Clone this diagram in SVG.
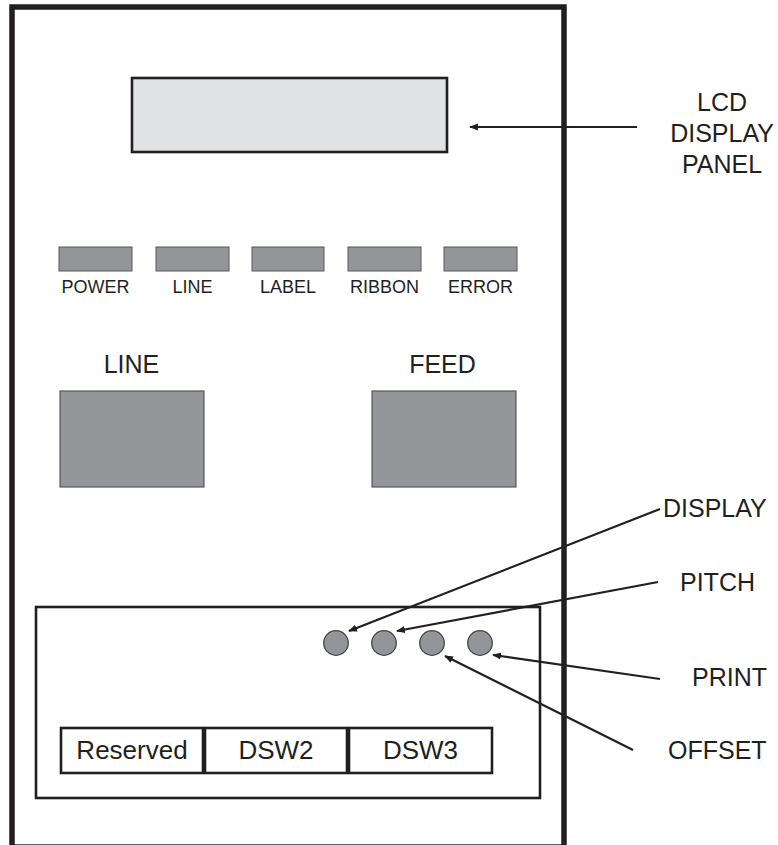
<svg xmlns="http://www.w3.org/2000/svg" width="778" height="845" viewBox="0 0 778 845">
<style>
text{font-family:"Liberation Sans",Arial,sans-serif;fill:#231f20}
.big{font-size:25px}
.dip{font-size:26px;text-anchor:middle}
.led-t{font-size:18px;text-anchor:middle}
.led{fill:#939598;stroke:#58595b;stroke-width:1}
.btn{fill:#939598;stroke:#58595b;stroke-width:1.2}
.knob{fill:#939598;stroke:#414042;stroke-width:1.2}
.box{fill:#fff;stroke:#231f20;stroke-width:2.6}
.conn line{stroke:#231f20;stroke-width:2.2}
</style>
<defs>
<marker id="ah" viewBox="0 0 10 10" refX="9" refY="5" markerWidth="4" markerHeight="4" orient="auto" markerUnits="strokeWidth">
<path d="M0,1 L10,5 L0,9 Z" fill="#231f20"/>
</marker>
</defs>
<rect width="778" height="845" fill="#fff"/>
<g id="frame"><rect x="12" y="7" width="552" height="840" fill="none" stroke="#231f20" stroke-width="5.5"/></g>
<g id="lcd"><rect x="132" y="78" width="315" height="74" fill="#e1e2e4" stroke="#231f20" stroke-width="2.6"/></g>
<g id="lcd-label">
<text class="big" x="722" y="111" text-anchor="middle">LCD</text>
<text class="big" x="722" y="142" text-anchor="middle">DISPLAY</text>
<text class="big" x="722" y="173" text-anchor="middle">PANEL</text>
</g>
<g id="led-power"><rect class="led" x="59" y="247" width="73" height="24"/><text class="led-t" x="95.5" y="293">POWER</text></g>
<g id="led-line"><rect class="led" x="156" y="247" width="73" height="24"/><text class="led-t" x="192.5" y="293">LINE</text></g>
<g id="led-label"><rect class="led" x="252" y="247" width="72" height="24"/><text class="led-t" x="288" y="293">LABEL</text></g>
<g id="led-ribbon"><rect class="led" x="348" y="247" width="73" height="24"/><text class="led-t" x="384.5" y="293">RIBBON</text></g>
<g id="led-error"><rect class="led" x="444" y="247" width="73" height="24"/><text class="led-t" x="480.5" y="293">ERROR</text></g>
<g id="btn-line"><text class="big" x="131.5" y="373" text-anchor="middle">LINE</text><rect class="btn" x="60" y="391" width="144" height="96"/></g>
<g id="btn-feed"><text class="big" x="442.5" y="373" text-anchor="middle">FEED</text><rect class="btn" x="372" y="391" width="144" height="96"/></g>
<g id="panel"><rect class="box" x="36" y="607" width="504" height="191"/></g>
<g id="knob-display"><circle class="knob" cx="336" cy="643" r="12.3"/></g>
<g id="knob-pitch"><circle class="knob" cx="384" cy="643" r="12.3"/></g>
<g id="knob-offset"><circle class="knob" cx="432" cy="643" r="12.3"/></g>
<g id="knob-print"><circle class="knob" cx="480" cy="643" r="12.3"/></g>
<g id="dip-reserved"><rect class="box" x="61" y="728" width="142" height="45"/><text class="dip" x="132" y="759">Reserved</text></g>
<g id="dip-dsw2"><rect class="box" x="205" y="728" width="142" height="45"/><text class="dip" x="276" y="759">DSW2</text></g>
<g id="dip-dsw3"><rect class="box" x="349" y="728" width="143" height="45"/><text class="dip" x="420.5" y="759">DSW3</text></g>
<g id="labels">
<text class="big" x="663" y="517">DISPLAY</text>
<text class="big" x="680" y="591">PITCH</text>
<text class="big" x="692" y="686">PRINT</text>
<text class="big" x="668" y="759">OFFSET</text>
</g>
<g id="connectors" class="conn">
<line x1="637" y1="127" x2="470" y2="127" marker-end="url(#ah)"/>
<line x1="660" y1="509" x2="349" y2="631" marker-end="url(#ah)"/>
<line x1="658" y1="582" x2="397" y2="631" marker-end="url(#ah)"/>
<line x1="660" y1="679" x2="493" y2="655" marker-end="url(#ah)"/>
<line x1="633" y1="750" x2="445" y2="656" marker-end="url(#ah)"/>
</g>
</svg>
